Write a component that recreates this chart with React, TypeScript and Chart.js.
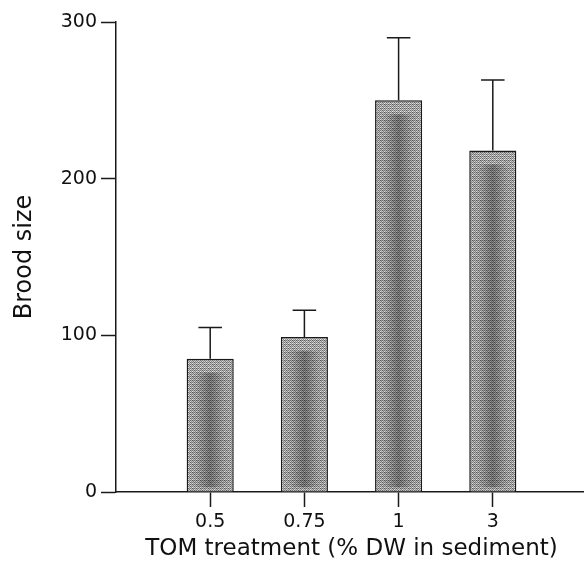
import React, { useEffect, useRef } from 'react';
import { Chart, registerables } from 'chart.js';

Chart.register(...registerables);

const categories = ['0.5', '0.75', '1', '3'];
const broodMeans = [85, 99, 250, 218];
const broodUpper = [105, 116, 290, 263];
const yTickValues = [0, 100, 200, 300];
const xTitle = 'TOM treatment (% DW in sediment)';
const yTitle = 'Brood size';

const INK = '#1a1a1a';
const FONT = "'DejaVu Sans', 'Liberation Sans', Arial, sans-serif";

export default function App() {
  const ref = useRef<HTMLCanvasElement>(null);

  useEffect(() => {
    const canvas = ref.current;
    if (!canvas) return;
    const labels = ['', ...categories, ''];
    const values = [null, ...broodMeans, null];
    const uppers = [null, ...broodUpper, null];

    // stipple fill pattern (ordered dither, 8x8)
    const b4 = [
      [0, 8, 2, 10],
      [12, 4, 14, 6],
      [3, 11, 1, 9],
      [15, 7, 13, 5],
    ];
    const pc = document.createElement('canvas');
    pc.width = 8;
    pc.height = 8;
    const pctx = pc.getContext('2d')!;
    for (let r = 0; r < 8; r++) {
      for (let c = 0; c < 8; c++) {
        const v = 4 * b4[r % 4][c % 4] + [0, 2, 3, 1][((r >> 2) % 2) * 2 + ((c >> 2) % 2)];
        const g = Math.round(85 + (v / 63) * 150);
        pctx.fillStyle = `rgb(${g},${g},${g})`;
        pctx.fillRect(c, r, 1, 1);
      }
    }
    const pattern = canvas.getContext('2d')!.createPattern(pc, 'repeat');

    const errorPlugin = {
      id: 'errorBars',
      afterDatasetsDraw(chart: any) {
        const meta = chart.getDatasetMeta(0);
        const ys = chart.scales.y;
        const ctx = chart.ctx as CanvasRenderingContext2D;
        ctx.save();
        meta.data.forEach((bar: any, i: number) => {
          const v = uppers[i];
          if (v == null) return;
          const { x, y, base, width } = bar.getProps(['x', 'y', 'base', 'width'], true);
          // darker central shading inside the bar
          const g = ctx.createLinearGradient(x - width / 2, 0, x + width / 2, 0);
          g.addColorStop(0, 'rgba(0,0,0,0)');
          g.addColorStop(0.2, 'rgba(0,0,0,0.06)');
          g.addColorStop(0.5, 'rgba(0,0,0,0.33)');
          g.addColorStop(0.8, 'rgba(0,0,0,0.06)');
          g.addColorStop(1, 'rgba(0,0,0,0)');
          ctx.fillStyle = g;
          ctx.fillRect(x - width / 2 + 2, y + 14, width - 4, base - y - 18);
          // error bar
          const yt = ys.getPixelForValue(v);
          ctx.strokeStyle = INK;
          ctx.lineWidth = 1.5;
          ctx.beginPath();
          ctx.moveTo(x, y);
          ctx.lineTo(x, yt);
          ctx.moveTo(x - width / 4, yt);
          ctx.lineTo(x + width / 4, yt);
          ctx.stroke();
        });
        ctx.restore();
      },
    };

    const chart = new Chart(canvas, {
      type: 'bar',
      data: {
        labels,
        datasets: [
          {
            data: values as any,
            backgroundColor: pattern as any,
            borderColor: INK,
            borderWidth: 1.5,
            barPercentage: 1,
            categoryPercentage: 0.5,
          },
        ],
      },
      options: {
        animation: false,
        responsive: false,
        layout: { padding: { top: 22, right: 0, left: 0, bottom: 0 } },
        plugins: { legend: { display: false }, tooltip: { enabled: false } },
        scales: {
          x: {
            type: 'category',
            offset: false,
            grid: {
              offset: false,
              drawOnChartArea: false,
              tickLength: 15,
              tickWidth: 1.5,
              tickColor: (ctx: any) => (labels[ctx.index] ? INK : 'rgba(0,0,0,0)'),
            },
            border: { color: INK, width: 1.5 },
            ticks: {
              color: '#111',
              font: { family: FONT, size: 19 },
              padding: 4,
              maxRotation: 0,
              autoSkip: false,
            },
            title: {
              display: true,
              text: xTitle,
              color: '#111',
              font: { family: FONT, size: 23 },
              padding: { top: 0, bottom: 4 },
            },
            afterFit: (s: any) => {
              s.height = 75;
            },
          },
          y: {
            min: 0,
            max: 300,
            afterBuildTicks: (s: any) => {
              s.ticks = yTickValues.map((v) => ({ value: v }));
            },
            grid: {
              drawOnChartArea: false,
              tickLength: 15,
              tickWidth: 1.5,
              tickColor: INK,
            },
            border: { color: INK, width: 1.5 },
            ticks: {
              color: '#111',
              font: { family: FONT, size: 19 },
              padding: 4,
            },
            title: {
              display: true,
              text: yTitle,
              color: '#111',
              font: { family: FONT, size: 24 },
              padding: { top: 10, bottom: 0 },
            },
            afterFit: (s: any) => {
              s.width = 116;
            },
          },
        },
      },
      plugins: [errorPlugin],
    });
    return () => chart.destroy();
  }, []);

  return (
    <div style={{ position: 'fixed', left: 0, top: 0, width: 584, height: 567, overflow: 'hidden', background: '#fff' }}>
      <canvas ref={ref} width={591} height={567} style={{ width: 591, height: 567 }} />
    </div>
  );
}
